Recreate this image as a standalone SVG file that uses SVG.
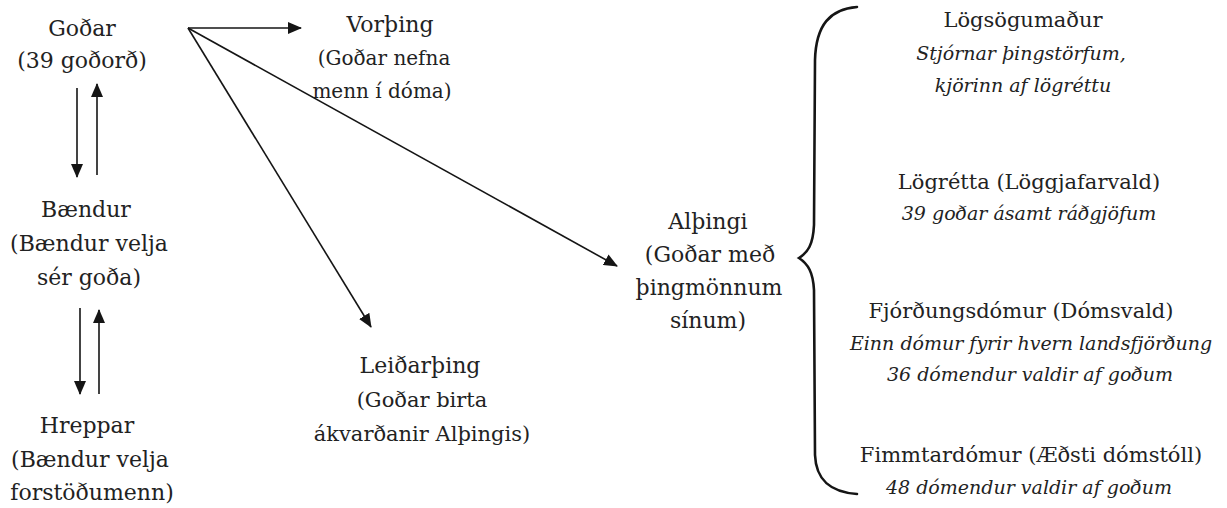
<svg xmlns="http://www.w3.org/2000/svg" width="1227" height="508" viewBox="0 0 1227 508">
<defs>
<style>
text{font-family:"DejaVu Serif","Liberation Serif",serif;font-size:22px;fill:#222;text-anchor:middle}
text.r{font-size:21px}
text.i{font-style:italic;font-size:19px}
text.s{font-size:20px}
.c{stroke:#151515;stroke-width:1.6;fill:none}
.brace{stroke:#151515;stroke-width:2.6;fill:none;stroke-linecap:round}
</style>
<marker id="ah" markerUnits="userSpaceOnUse" markerWidth="14" markerHeight="12" refX="13" refY="6" orient="auto">
<path d="M0,0 L14,6 L0,12 Z" fill="#151515"/>
</marker>
</defs>
<rect width="1227" height="508" fill="#fff"/>

<g id="connectors">
<line class="c" x1="77" y1="88" x2="77" y2="177" marker-end="url(#ah)"/>
<line class="c" x1="97" y1="175" x2="97" y2="84" marker-end="url(#ah)"/>
<line class="c" x1="80" y1="308" x2="80" y2="394" marker-end="url(#ah)"/>
<line class="c" x1="99" y1="394" x2="99" y2="310" marker-end="url(#ah)"/>
<line class="c" x1="188" y1="28" x2="301" y2="28" marker-end="url(#ah)"/>
<line class="c" x1="188" y1="28" x2="617" y2="266" marker-end="url(#ah)"/>
<line class="c" x1="188" y1="28" x2="371" y2="327" marker-end="url(#ah)"/>
<path class="brace" d="M857 7 C830 9 816 25 815 60 L814 225 C813 245 808 252 799 258 C808 264 813 272 814 290 L815 455 C816 480 830 492 857 494"/>
</g>

<g id="godar">
<text x="82" y="36">Goðar</text>
<text x="82" y="68">(39 goðorð)</text>
</g>
<g id="baendur">
<text x="86" y="217">Bændur</text>
<text x="89" y="251">(Bændur velja</text>
<text x="89" y="285">sér goða)</text>
</g>
<g id="hreppar">
<text x="87" y="433">Hreppar</text>
<text x="90" y="467">(Bændur velja</text>
<text x="92" y="500">forstöðumenn)</text>
</g>
<g id="vorthing">
<text x="390" y="32">Vorþing</text>
<text class="s" x="384" y="65">(Goðar nefna</text>
<text class="s" x="382" y="98">menn í dóma)</text>
</g>
<g id="leidarthing">
<text x="420" y="373">Leiðarþing</text>
<text class="r" x="422" y="407">(Goðar birta</text>
<text class="r" x="422" y="441">ákvarðanir Alþingis)</text>
</g>
<g id="althingi">
<text x="708" y="229">Alþingi</text>
<text x="710" y="262">(Goðar með</text>
<text x="709" y="295">þingmönnum</text>
<text x="708" y="328">sínum)</text>
</g>
<g id="logsogumadur">
<text class="r" x="1023" y="27">Lögsögumaður</text>
<text class="i" x="1021" y="60">Stjórnar þingstörfum,</text>
<text class="i" x="1023" y="92">kjörinn af lögréttu</text>
</g>
<g id="logretta">
<text class="r" x="1029" y="189">Lögrétta (Löggjafarvald)</text>
<text class="i" x="1029" y="220">39 goðar ásamt ráðgjöfum</text>
</g>
<g id="fjordungsdomur">
<text class="r" x="1021" y="318">Fjórðungsdómur (Dómsvald)</text>
<text class="i" x="1031" y="350">Einn dómur fyrir hvern landsfjörðung</text>
<text class="i" x="1030" y="381">36 dómendur valdir af goðum</text>
</g>
<g id="fimmtardomur">
<text class="r" x="1031" y="462">Fimmtardómur (Æðsti dómstóll)</text>
<text class="i" x="1029" y="494">48 dómendur valdir af goðum</text>
</g>
</svg>
